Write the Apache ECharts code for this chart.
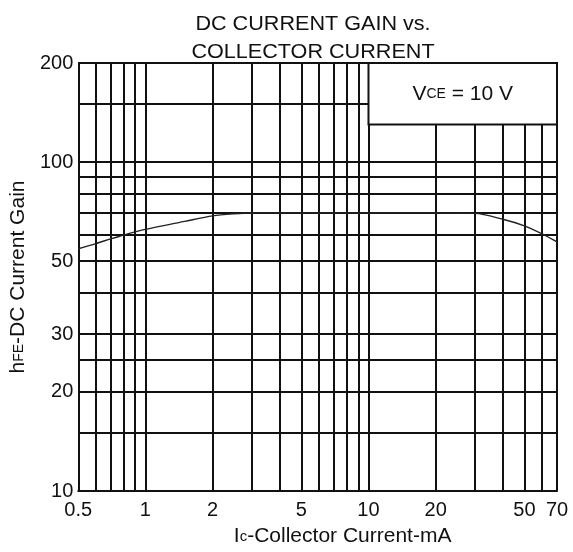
<!DOCTYPE html>
<html>
<head>
<meta charset="utf-8">
<script src="https://cdn.jsdelivr.net/npm/echarts@6/dist/echarts.min.js"></script>
<style>
    html, body { margin: 0; padding: 0; background: #fff; }
    #chart { width: 573px; height: 552px; }
</style>
</head>
<body>
<div id="chart"></div>
<script>
// hFE vs Ic, VCE = 10 V
var currentMA = [0.5, 0.6, 0.7, 0.8, 1, 1.5, 2, 2.5, 3, 5, 10, 20, 30, 40, 50, 60, 70];
var gainHFE = [54.5, 56.5, 58.4, 60, 62.4, 66, 68.6, 69.6, 70, 70, 70, 70, 69.8, 67, 64, 60.5, 57.2];

// grid lines and tick labels
var xGridValues = [0.5, 0.6, 0.7, 0.8, 0.9, 1, 2, 3, 4, 5, 6, 7, 8, 9, 10, 20, 30, 40, 50, 60, 70];
var xTickLabels = [0.5, 1, 2, 5, 10, 20, 50, 70];
var yGridValues = [10, 15, 20, 25, 30, 40, 50, 60, 70, 80, 90, 100, 150, 200];
var yTickLabels = [10, 20, 30, 50, 100, 200];

var FONT = '"Liberation Sans", Arial, Helvetica, sans-serif';
var INK = '#111';
var GRID_W = 2;

var chart = echarts.init(document.getElementById('chart'));

var seriesData = currentMA.map(function(x, i) {
    return [x, gainHFE[i]];
});

//下标样式
function subStyle(size) {
    return { fontFamily: FONT, fontSize: size, color: INK, verticalAlign: 'bottom', padding: [0, 0, 3, 0] };
}

chart.setOption({
    animation: false,
    backgroundColor: '#fff',
    //标题,两行
    graphic: [{
        type: 'text',
        x: 313,
        y: 10,
        scaleX: 1.08,
        style: {
            text: 'DC CURRENT GAIN vs.\nCOLLECTOR CURRENT',
            align: 'center',
            font: '20px ' + FONT,
            lineHeight: 28,
            fill: INK
        }
    }],
    grid: {
        left: 76,
        right: 16,
        top: 63,
        bottom: 58,
        containLabel: false
    },
    xAxis: {
        type: 'log',
        logBase: 10,
        min: 0.5,
        max: 70,
        name: '{m|I}{s|c}{m|-Collector Current-mA}',
        nameLocation: 'middle',
        nameGap: 35,
        nameTextStyle: {
            padding: [0, 0, 0, 50],
            rich: {
                m: { fontFamily: FONT, fontSize: 21, color: INK },
                s: subStyle(15)
            }
        },
        axisLine: { show: true, lineStyle: { color: INK, width: GRID_W } },
        axisTick: { show: false, customValues: xGridValues },
        axisLabel: {
            customValues: xTickLabels,
            margin: 9,
            fontFamily: FONT,
            fontSize: 20,
            color: INK,
            formatter: function(v) { return String(v); }
        },
        splitLine: { show: true, lineStyle: { color: INK, width: GRID_W } }
    },
    yAxis: {
        type: 'log',
        logBase: 10,
        min: 10,
        max: 200,
        name: '{m|h}{s|FE}{m|-DC Current Gain}',
        nameLocation: 'middle',
        nameGap: 47,
        nameRotate: 90,
        nameTextStyle: {
            rich: {
                m: { fontFamily: FONT, fontSize: 21, color: INK },
                s: subStyle(14)
            }
        },
        axisLine: { show: true, lineStyle: { color: INK, width: GRID_W } },
        axisTick: { show: false, customValues: yGridValues },
        axisLabel: {
            customValues: yTickLabels,
            margin: 5,
            fontFamily: FONT,
            fontSize: 20,
            color: INK,
            formatter: function(v) { return String(v); }
        },
        splitLine: { show: true, lineStyle: { color: INK, width: GRID_W } }
    },
    series: [{
        type: 'line',
        data: seriesData,
        symbol: 'none',
        smooth: 0.3,
        lineStyle: { color: '#222', width: 1.4 },
        //VCE 标注框
        markArea: {
            silent: true,
            itemStyle: { color: '#fff', borderColor: INK, borderWidth: GRID_W },
            label: {
                show: true,
                position: 'inside',
                formatter: '{m|V}{s|CE}{m| = 10 V}',
                rich: {
                    m: { fontFamily: FONT, fontSize: 21, color: INK },
                    s: subStyle(14)
                }
            },
            data: [[{ coord: [10, 130] }, { coord: [70, 200] }]]
        }
    }]
});
</script>
</body>
</html>
